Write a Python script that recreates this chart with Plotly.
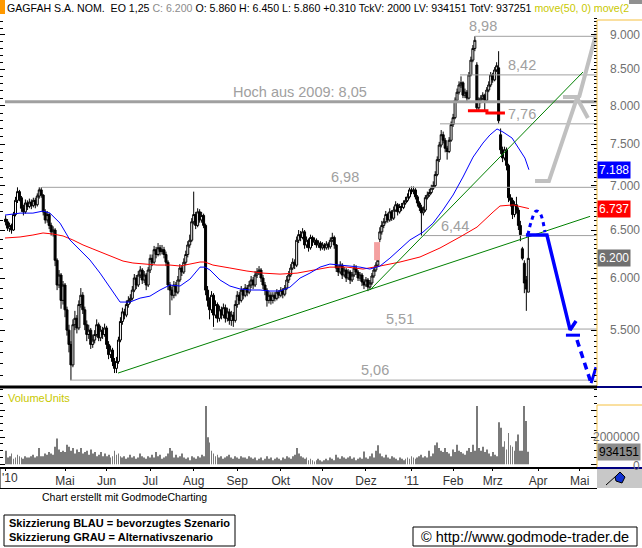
import numpy as np
import pandas as pd
import plotly.graph_objects as go

W, H = 642, 548
FONT = "Liberation Sans, Arial, sans-serif"

# ---------------- data ----------------
START = "2010-03-22"  # first trading day shown (position 0)

opens = [6.62, 6.59, 6.52, 6.55, 6.50, 6.67, 6.83, 6.93, 6.86, 6.74, 6.70, 6.80, 6.76, 6.81, 6.77, 6.83, 6.78, 6.88, 6.95,
         6.89, 6.70, 6.61, 6.67, 6.55, 6.48, 6.50, 6.18, 5.93, 6.03, 5.78,
         5.93, 5.69, 5.50, 5.37, 5.19, 5.55, 5.61, 5.52, 5.74, 5.83, 5.69, 5.55, 5.46, 5.50, 5.37, 5.41, 5.46, 5.55, 5.43, 5.50, 5.46, 5.52, 5.37, 5.28, 5.32, 5.22, 5.16, 5.22, 5.41,
         5.58, 5.67, 5.64, 5.74, 5.78, 5.80, 5.88, 6.00, 5.93, 6.03, 6.08, 5.98, 6.03, 5.93, 6.08, 6.20, 6.16, 6.29, 6.24, 6.31, 6.27, 6.29, 6.24, 6.16, 5.93, 5.88, 5.83, 5.93, 5.86, 5.98, 6.10, 6.06,
         6.16, 6.24, 6.34, 6.39, 6.59, 6.67, 6.55, 6.70, 6.61, 6.66, 6.55, 5.88, 5.78, 5.69, 5.83, 5.64,
         5.74, 5.61, 5.69, 5.64, 5.71, 5.61, 5.67, 5.59, 5.64, 5.59, 5.74, 5.83, 5.78, 5.88, 5.83, 5.90, 5.86, 5.93, 5.98, 5.93,
         6.03, 6.06, 6.08, 6.00, 5.93, 5.88, 5.78, 5.83, 5.78, 5.83, 5.80, 5.86, 5.83, 5.88, 5.84, 5.90, 5.98, 6.03, 6.10, 6.16, 6.13, 6.39,
         6.45, 6.42, 6.48, 6.34, 6.39, 6.31, 6.42, 6.37, 6.39, 6.34, 6.36, 6.31, 6.34, 6.31, 6.35, 6.32, 6.39, 6.42, 6.34, 6.10, 6.06, 6.13, 6.03, 6.08, 6.00, 6.06, 5.98, 6.03, 6.10, 6.06, 6.00, 6.03, 5.96, 5.93, 5.98, 5.91, 5.95, 6.02, 6.08, 6.13,
         6.40, 6.48, 6.55, 6.59, 6.67, 6.61, 6.70, 6.63, 6.72, 6.78, 6.70, 6.76, 6.75, 6.80, 6.83, 6.87, 6.95, 6.93, 6.95, 6.87, 6.80, 6.75, 6.69, 6.72, 6.86, 6.89, 6.92, 6.97, 7.00, 7.13, 7.31, 7.49, 7.62, 7.55, 7.45, 7.41, 7.55, 7.75, 7.84, 8.07, 8.18, 8.28, 8.31, 8.14, 8.18, 8.10, 8.42, 8.63, 8.80,
         8.56, 7.97, 8.07, 8.10, 8.14, 8.07, 8.21, 8.28, 8.42, 8.35, 8.49, 8.52, 7.62, 7.43, 7.33, 7.43, 7.24, 6.86, 6.83, 6.67, 6.78, 6.72, 6.55, 6.30, 6.15, 5.98, 5.86]

highs = [6.66, 6.62, 6.58, 6.57, 6.70, 6.87, 6.98, 6.95, 6.88, 6.78, 6.84, 6.83, 6.85, 6.84, 6.86, 6.86, 6.91, 6.98, 6.98,
         6.90, 6.73, 6.71, 6.69, 6.58, 6.54, 6.52, 6.20, 6.08, 6.05, 5.97,
         5.95, 5.72, 5.55, 5.40, 5.60, 5.68, 5.64, 5.78, 5.90, 5.86, 5.72, 5.59, 5.55, 5.52, 5.46, 5.50, 5.60, 5.57, 5.54, 5.53, 5.56, 5.54, 5.40, 5.36, 5.34, 5.25, 5.26, 5.44, 5.62,
         5.71, 5.70, 5.78, 5.82, 5.84, 5.92, 6.04, 6.03, 6.07, 6.12, 6.10, 6.07, 6.05, 6.11, 6.24, 6.24, 6.33, 6.32, 6.36, 6.34, 6.34, 6.32, 6.27, 6.18, 5.96, 5.91, 5.97, 5.96, 6.02, 6.14, 6.13, 6.20,
         6.28, 6.38, 6.45, 6.63, 6.93, 6.70, 6.74, 6.73, 6.70, 6.68, 6.57, 5.92, 5.81, 5.87, 5.85, 5.78,
         5.76, 5.73, 5.72, 5.75, 5.74, 5.71, 5.70, 5.68, 5.67, 5.78, 5.87, 5.86, 5.92, 5.90, 5.94, 5.93, 5.97, 6.02, 6.01, 6.07,
         6.10, 6.12, 6.10, 6.03, 5.96, 5.90, 5.87, 5.86, 5.86, 5.86, 5.89, 5.88, 5.91, 5.90, 5.93, 6.02, 6.07, 6.14, 6.20, 6.19, 6.43, 6.50,
         6.49, 6.52, 6.50, 6.43, 6.41, 6.45, 6.44, 6.42, 6.41, 6.39, 6.38, 6.37, 6.36, 6.38, 6.37, 6.42, 6.47, 6.44, 6.35, 6.13, 6.17, 6.15, 6.11, 6.10, 6.09, 6.08, 6.06, 6.14, 6.13, 6.08, 6.06, 6.05, 5.99, 6.01, 6.00, 5.98, 6.05, 6.11, 6.16, 6.20,
         6.53, 6.60, 6.63, 6.71, 6.69, 6.74, 6.72, 6.76, 6.82, 6.80, 6.79, 6.80, 6.83, 6.87, 6.91, 6.98, 6.99, 6.99, 6.97, 6.89, 6.82, 6.78, 6.76, 6.89, 6.93, 6.96, 7.01, 7.05, 7.17, 7.35, 7.53, 7.68, 7.66, 7.58, 7.48, 7.59, 7.79, 7.89, 8.11, 8.23, 8.33, 8.40, 8.33, 8.23, 8.21, 8.46, 8.68, 8.85, 8.98,
         8.60, 8.11, 8.14, 8.18, 8.16, 8.25, 8.33, 8.46, 8.45, 8.53, 8.60, 8.76, 7.70, 7.47, 7.47, 7.46, 7.26, 6.90, 6.86, 6.82, 6.87, 6.75, 6.60, 6.32, 6.18, 6.02, 6.45]

lows = [6.55, 6.49, 6.48, 6.46, 6.49, 6.65, 6.80, 6.82, 6.70, 6.66, 6.68, 6.72, 6.74, 6.73, 6.75, 6.74, 6.76, 6.85, 6.86,
        6.66, 6.57, 6.58, 6.51, 6.44, 6.43, 6.12, 5.88, 5.90, 5.70, 5.74,
        5.62, 5.45, 5.30, 5.06, 5.17, 5.50, 5.47, 5.50, 5.71, 5.65, 5.50, 5.40, 5.42, 5.33, 5.34, 5.38, 5.44, 5.40, 5.40, 5.42, 5.44, 5.33, 5.24, 5.25, 5.18, 5.12, 5.12, 5.20, 5.39,
        5.55, 5.60, 5.62, 5.71, 5.75, 5.78, 5.86, 5.89, 5.91, 6.00, 5.94, 5.95, 5.88, 5.91, 6.05, 6.12, 6.14, 6.20, 6.22, 6.23, 6.24, 6.20, 6.12, 5.88, 5.64, 5.78, 5.80, 5.82, 5.84, 5.96, 6.02, 6.04,
        6.13, 6.21, 6.31, 6.37, 6.56, 6.51, 6.53, 6.58, 6.58, 6.52, 5.83, 5.72, 5.60, 5.66, 5.53, 5.61,
        5.57, 5.58, 5.60, 5.61, 5.57, 5.58, 5.55, 5.54, 5.53, 5.57, 5.71, 5.74, 5.76, 5.79, 5.81, 5.82, 5.84, 5.90, 5.89, 5.91,
        6.00, 6.03, 5.96, 5.89, 5.83, 5.72, 5.75, 5.74, 5.75, 5.77, 5.78, 5.80, 5.81, 5.80, 5.82, 5.88, 5.95, 6.01, 6.08, 6.09, 6.11, 6.36,
        6.38, 6.40, 6.30, 6.31, 6.27, 6.29, 6.33, 6.34, 6.31, 6.31, 6.28, 6.29, 6.28, 6.29, 6.29, 6.30, 6.37, 6.30, 6.06, 6.02, 6.04, 5.99, 6.01, 5.96, 5.98, 5.94, 5.96, 6.01, 6.03, 5.97, 5.97, 5.92, 5.89, 5.91, 5.87, 5.89, 5.93, 6.00, 6.06, 6.11,
        6.37, 6.45, 6.52, 6.57, 6.58, 6.59, 6.60, 6.61, 6.70, 6.66, 6.68, 6.71, 6.73, 6.78, 6.81, 6.85, 6.90, 6.90, 6.84, 6.76, 6.71, 6.44, 6.66, 6.70, 6.84, 6.87, 6.90, 6.95, 6.98, 7.11, 7.28, 7.46, 7.51, 7.40, 7.31, 7.39, 7.53, 7.72, 7.82, 8.04, 8.15, 8.24, 8.10, 8.10, 8.05, 8.08, 8.40, 8.60, 8.76,
        7.92, 7.93, 8.03, 8.07, 7.94, 8.05, 8.18, 8.25, 8.31, 8.33, 8.46, 7.76, 7.38, 7.28, 7.30, 7.18, 6.81, 6.76, 6.62, 6.64, 6.68, 6.50, 6.38, 6.18, 5.85, 5.68, 5.86]

closes = [6.59, 6.52, 6.55, 6.50, 6.67, 6.83, 6.93, 6.86, 6.74, 6.70, 6.80, 6.76, 6.81, 6.77, 6.83, 6.78, 6.88, 6.95, 6.89,
          6.70, 6.61, 6.67, 6.55, 6.48, 6.50, 6.18, 5.93, 6.03, 5.78, 5.93,
          5.69, 5.50, 5.37, 5.19, 5.55, 5.61, 5.52, 5.74, 5.83, 5.69, 5.55, 5.46, 5.50, 5.37, 5.41, 5.46, 5.55, 5.43, 5.50, 5.46, 5.52, 5.37, 5.28, 5.32, 5.22, 5.16, 5.22, 5.41, 5.58,
          5.67, 5.64, 5.74, 5.78, 5.80, 5.88, 6.00, 5.93, 6.03, 6.08, 5.98, 6.03, 5.93, 6.08, 6.20, 6.16, 6.29, 6.24, 6.31, 6.27, 6.29, 6.24, 6.16, 5.93, 5.88, 5.83, 5.93, 5.86, 5.98, 6.10, 6.06, 6.16,
          6.24, 6.34, 6.39, 6.59, 6.67, 6.55, 6.70, 6.61, 6.66, 6.55, 5.88, 5.78, 5.69, 5.83, 5.64, 5.74,
          5.61, 5.69, 5.64, 5.71, 5.61, 5.67, 5.59, 5.64, 5.59, 5.74, 5.83, 5.78, 5.88, 5.83, 5.90, 5.86, 5.93, 5.98, 5.93, 6.03,
          6.06, 6.08, 6.00, 5.93, 5.88, 5.78, 5.83, 5.78, 5.83, 5.80, 5.86, 5.83, 5.88, 5.84, 5.90, 5.98, 6.03, 6.10, 6.16, 6.13, 6.39, 6.45,
          6.42, 6.48, 6.34, 6.39, 6.31, 6.42, 6.37, 6.39, 6.34, 6.36, 6.31, 6.34, 6.31, 6.35, 6.32, 6.39, 6.42, 6.34, 6.10, 6.06, 6.13, 6.03, 6.08, 6.00, 6.06, 5.98, 6.03, 6.10, 6.06, 6.00, 6.03, 5.96, 5.93, 5.98, 5.91, 5.95, 6.02, 6.08, 6.13, 6.18,
          6.48, 6.55, 6.59, 6.67, 6.61, 6.70, 6.63, 6.72, 6.78, 6.70, 6.76, 6.75, 6.80, 6.83, 6.87, 6.95, 6.93, 6.95, 6.87, 6.80, 6.75, 6.69, 6.72, 6.86, 6.89, 6.92, 6.97, 7.00, 7.13, 7.31, 7.49, 7.62, 7.55, 7.45, 7.41, 7.55, 7.75, 7.84, 8.07, 8.18, 8.28, 8.31, 8.14, 8.18, 8.10, 8.42, 8.63, 8.80, 8.92,
          7.97, 8.07, 8.10, 8.14, 8.07, 8.21, 8.28, 8.42, 8.35, 8.49, 8.55, 7.80, 7.43, 7.33, 7.43, 7.24, 6.86, 6.83, 6.67, 6.78, 6.72, 6.55, 6.45, 6.20, 5.95, 5.89, 6.20]

volume_mio = [1.0, 0.5, 0.6, 0.8, 0.4, 0.5, 0.7, 0.6, 0.5, 0.4, 0.6, 0.5, 0.5, 0.6, 0.7, 0.5, 0.6, 1.2, 0.6,
              0.6, 0.8, 0.7, 0.9, 0.8, 0.7, 1.3, 1.9, 1.1, 0.9, 1.0,
              0.9, 1.45, 1.3, 1.0, 1.2, 0.8, 1.1, 0.9, 1.2, 0.8, 0.9, 1.0, 0.7, 1.1, 0.8, 0.9, 0.6, 0.7, 0.9, 0.6, 0.8, 0.6, 0.7, 0.5, 0.6, 1.0, 0.7, 0.8, 0.6,
              0.5, 0.6, 0.4, 0.5, 0.7, 0.5, 0.6, 0.4, 0.5, 0.8, 0.6, 0.5, 0.4, 0.6, 0.5, 0.7, 0.5, 0.9, 0.6, 0.7, 0.4, 0.5, 0.6, 0.8, 1.2, 1.0, 0.5, 0.7, 0.5, 0.6, 0.8, 0.5,
              0.4, 0.5, 0.3, 0.6, 0.5, 0.4, 0.6, 0.5, 0.7, 0.6, 4.3, 2.0, 1.6, 1.0, 0.8, 0.6,
              0.7, 0.5, 0.6, 0.4, 0.5, 0.6, 0.7, 0.5, 0.4, 0.6, 0.5, 0.4, 0.6, 0.5, 0.5, 0.4, 0.6, 0.5, 0.4, 0.5,
              0.3, 0.4, 0.5, 0.3, 0.4, 0.6, 0.4, 0.5, 0.3, 0.4, 0.5, 0.4, 0.3, 0.5, 0.4, 0.6, 0.5, 0.4, 0.6, 0.7, 1.2, 0.8,
              0.6, 0.5, 0.4, 0.5, 0.3, 0.4, 0.3, 0.2, 0.3, 0.4, 0.3, 0.2, 0.3, 0.4, 0.3, 0.5, 0.4, 0.3, 0.7, 0.5, 0.4, 0.6, 0.5, 0.4, 0.5, 0.6, 0.4, 0.5, 0.3, 0.4, 0.5, 0.4, 0.95, 0.5, 0.4, 0.6, 0.8, 0.5, 1.0, 1.4,
              0.8, 0.6, 0.5, 0.7, 0.5, 0.4, 0.6, 0.5, 0.4, 0.3, 0.5, 0.4, 0.3, 0.4, 0.5, 0.4, 0.6, 0.5, 0.4, 0.5, 0.6, 0.7, 0.5, 0.6, 0.5, 1.0, 0.6, 0.8, 1.4, 1.6, 1.2, 1.0, 0.9, 1.2, 0.9, 0.8, 0.6, 1.1, 0.9, 1.45, 1.0, 0.9, 0.8, 0.7, 1.0, 1.2, 0.9, 1.45, 1.0,
              4.3, 1.2, 1.0, 1.3, 0.9, 1.1, 0.8, 0.6, 0.9, 0.7, 0.6, 3.1, 2.7, 1.3, 1.7, 1.1, 2.3, 1.4, 1.3, 1.0, 1.7, 2.2, 1.0, 1.0, 4.3, 3.2, 0.934151]

# moving averages (trading-day position, value)
ma50_pos = [-0.3, 7.3, 13.8, 18.9, 22.4, 27.5, 32.5, 37.6, 42.6, 47.7, 52.7, 57.8, 62.8, 67.9, 72.9, 78.0, 83.0, 88.1, 93.1, 98.2,
            100.7, 103.2, 108.3, 113.3, 118.4, 123.4, 128.5, 133.5, 138.6, 143.6, 148.7, 153.7, 158.8, 163.8, 168.9, 173.9, 179.0, 184.0, 189.1, 194.1,
            199.2, 204.2, 210.8, 215.9, 220.9, 226.0, 231.0, 236.1, 241.1, 244.6, 248.2, 251.2, 255.8, 258.8, 262.3, 264.3]
ma50 = [6.664, 6.686, 6.686, 6.709, 6.686, 6.575, 6.393, 6.287, 6.183, 6.049, 5.909, 5.764, 5.764, 5.802, 5.821, 5.881, 5.930, 5.920, 5.989, 6.110,
        6.110, 6.081, 5.980, 5.920, 5.891, 5.881, 5.881, 5.871, 5.871, 5.909, 5.999, 6.049, 6.110, 6.141, 6.131, 6.121, 6.110, 6.090, 6.121, 6.202,
        6.297, 6.393, 6.477, 6.575, 6.721, 6.891, 7.101, 7.341, 7.515, 7.617, 7.694, 7.655, 7.578, 7.466, 7.329, 7.188]
ma200_pos = [-0.3, 7.3, 13.8, 18.9, 23.9, 29.0, 34.0, 39.1, 44.1, 49.2, 54.2, 59.3, 64.3, 69.4, 76.5, 83.0, 88.1, 93.1, 98.2, 100.7,
             104.7, 113.3, 121.9, 130.0, 138.6, 147.2, 155.3, 163.8, 172.4, 180.5, 189.1, 199.2, 209.3, 219.4, 229.5, 238.1, 246.2, 249.7, 256.3, 261.3, 264.3]
ma200 = [6.414, 6.425, 6.446, 6.468, 6.457, 6.436, 6.393, 6.340, 6.298, 6.255, 6.214, 6.172, 6.152, 6.141, 6.131, 6.131, 6.121, 6.141, 6.162, 6.162,
         6.131, 6.101, 6.070, 6.049, 6.039, 6.049, 6.081, 6.110, 6.110, 6.090, 6.121, 6.162, 6.214, 6.308, 6.425, 6.532, 6.698, 6.766, 6.778, 6.755, 6.737]

# horizontal marks
levels = [8.98, 8.42, 8.05, 7.76, 6.98, 6.44, 5.51, 5.06]
level_from = [237.0, 229.5, -0.3, 219.4, 18.4, 210.8, 104.7, 32.5]
level_text = ["8,98", "8,42", "Hoch aus 2009: 8,05", "7,76", "6,98", "6,44", "5,51", "5,06"]
level_text_pos = [241.0, 261.0, 148.7, 261.0, 171.4, 227.0, 199.2, 186.6]

# trend lines
trend_long_x, trend_long_y = [56.8, 295.2], [5.12, 6.65]
trend_steep_x, trend_steep_y = [184.0, 291.6], [5.88, 8.46]
redline_x, redline_y = [233.5, 243.1, 243.1, 252.2], [7.93, 7.93, 7.90, 7.90]
gap_x, gap_y = [186.1, 189.1, 189.1, 186.1, 186.1], [6.18, 6.18, 6.37, 6.37, 6.18]

# scenario sketches
blue_arc_x, blue_arc_y = [263.8, 265.4, 267.9, 269.9, 272.4], [6.446, 6.586, 6.709, 6.686, 6.477]
blue_main_x, blue_main_y = [262.8, 273.4, 285.1, 288.1], [6.446, 6.446, 5.502, 5.584]
blue_bar_x, blue_bar_y = [283.0, 290.1], [5.454, 5.454]
blue_dash_x, blue_dash_y = [288.6, 295.7], [5.411, 5.035]
blue_hook_x, blue_hook_y = [295.7, 298.2], [5.035, 5.170]
gray_a_x, gray_a_y = [267.4, 274.4, 288.6], [7.053, 7.053, 8.102]
gray_b_x, gray_b_y = [281.5, 290.1], [8.115, 8.115]
gray_c_x, gray_c_y = [288.6, 294.1], [8.102, 7.835]
gray_d_x, gray_d_y = [289.6, 298.2, 300.2], [8.11, 9.015, 8.807]

last_ma50, last_ma200, last_close, last_vol = 7.188, 6.737, 6.200, 934151
price_ticks = [5.5, 6.0, 6.5, 7.0, 7.5, 8.0, 8.5, 9.0]

# ---------------- helpers ----------------
n = len(closes)
assert all(len(a) == n for a in (opens, highs, lows, volume_mio)), [len(a) for a in (opens, highs, lows, closes, volume_mio)]
pos = np.arange(n)
volume = [v * 1e6 for v in volume_mio]

def PX(x):
    return x / W

def PY(y):
    return 1 - y / H

X_RANGE = [-2.83, 298.69]
Y_RANGE = [np.log10(5.019), np.log10(9.274)]
V_RANGE = [-0.2e6, 5.63e6]

cal = pd.bdate_range(START, "2011-05-31")
mon = {1: "'11", 2: "Feb", 3: "Mrz", 4: "Apr", 5: "Mai", 6: "Jun", 7: "Jul", 8: "Aug",
       9: "Sep", 10: "Okt", 11: "Nov", 12: "Dez"}
xt_vals, xt_text = [0], [""]
for k in range(1, len(cal)):
    d = cal[k]
    if d.month != cal[k - 1].month and not (d.year == 2010 and d.month == 4):
        xt_vals.append(k)
        xt_text.append(mon[d.month])

fig = go.Figure()

def line(x, y, color, width, dash="solid", shape="linear", ax="y"):
    fig.add_trace(go.Scatter(x=x, y=y, mode="lines", yaxis=ax, xaxis="x",
                             line=dict(color=color, width=width, dash=dash, shape=shape),
                             hoverinfo="skip", showlegend=False))

# gap box
fig.add_trace(go.Scatter(x=gap_x, y=gap_y, fill="toself", mode="lines", line=dict(width=0),
                         fillcolor="#f4a0a0", hoverinfo="skip", showlegend=False))
# level lines
for lv, x0 in zip(levels, level_from):
    line([x0, X_RANGE[1]], [lv, lv], "#a0a0a0", 3 if lv == 8.05 else 1)
# moving averages
line(ma200_pos, ma200, "#ff0000", 1)
line(ma50_pos, ma50, "#0000ff", 1)
# trend lines
line(trend_long_x, trend_long_y, "#008000", 1)
line(trend_steep_x, trend_steep_y, "#008000", 1)
line(redline_x, redline_y, "#ff0000", 3)

fig.add_trace(go.Candlestick(
    x=pos, open=opens, high=highs, low=lows, close=closes,
    increasing=dict(line=dict(color="black", width=1), fillcolor="white"),
    decreasing=dict(line=dict(color="black", width=1), fillcolor="black"),
    whiskerwidth=0, showlegend=False, hoverinfo="skip"))

# scenarios
line(gray_a_x, gray_a_y, "#c0c0c0", 4)
line(gray_b_x, gray_b_y, "#c0c0c0", 4)
line(gray_c_x, gray_c_y, "#c0c0c0", 4)
line(gray_d_x, gray_d_y, "#c0c0c0", 4)
line(blue_arc_x, blue_arc_y, "#0000ff", 3, dash="4px,4px", shape="spline")
line(blue_main_x, blue_main_y, "#0000ff", 3.5)
line(blue_bar_x, blue_bar_y, "#0000ff", 3)
line(blue_dash_x, blue_dash_y, "#0000ff", 3.5, dash="7px,5px")
line(blue_hook_x, blue_hook_y, "#0000ff", 3)

# helper traces so the left tick axes render
fig.add_trace(go.Scatter(x=[0], y=[6.5], yaxis="y3", mode="markers", marker=dict(opacity=0),
                         hoverinfo="skip", showlegend=False))
fig.add_trace(go.Scatter(x=[0], y=[0], xaxis="x2", yaxis="y4", mode="markers", marker=dict(opacity=0),
                         hoverinfo="skip", showlegend=False))

# volume
fig.add_trace(go.Bar(x=pos, y=volume, xaxis="x2", yaxis="y2", width=0.45,
                     marker=dict(color="#7a7a7a", line=dict(width=0)), hoverinfo="skip", showlegend=False))

minor_price = [round(5.0 + 0.05 * i, 2) for i in range(0, 90)]
minor_vol = [0.5e6 * i for i in range(0, 12)]

XDOM = [0, PX(597)]
fig.update_layout(
    width=W, height=H, margin=dict(l=0, r=0, t=0, b=0),
    paper_bgcolor="white", plot_bgcolor="white", showlegend=False, boxgap=0, boxgroupgap=0,
    font=dict(family=FONT, size=12, color="#000"),
    xaxis=dict(domain=XDOM, range=X_RANGE, anchor="y", showticklabels=False, showgrid=False,
               zeroline=False, showline=False, ticks="", rangeslider=dict(visible=False)),
    xaxis2=dict(domain=XDOM, range=X_RANGE, anchor="y2", matches="x", showgrid=False, zeroline=False,
                tickmode="array", tickvals=xt_vals, ticktext=xt_text, ticks="outside", ticklen=3,
                tickcolor="#000", tickfont=dict(size=12, color="#333", family=FONT), showline=False),
    yaxis=dict(domain=[PY(385), PY(17)], type="log", range=Y_RANGE, anchor="x", side="right",
               showgrid=False, zeroline=False, showline=False,
               tickmode="array", tickvals=price_ticks, ticktext=[f"{v:.3f}" for v in price_ticks],
               ticks="inside", ticklen=6, tickcolor="#000", ticklabelstandoff=12,
               tickfont=dict(size=12, color="#707070", family=FONT),
               minor=dict(tickmode="array", tickvals=minor_price, ticks="inside", ticklen=3, tickcolor="#000")),
    yaxis3=dict(type="log", range=Y_RANGE, overlaying="y", anchor="x", side="left",
                showgrid=False, zeroline=False, showline=False, showticklabels=False,
                tickmode="array", tickvals=price_ticks, ticks="inside", ticklen=5, tickcolor="#000",
                minor=dict(tickmode="array", tickvals=[round(5.0 + 0.1 * i, 1) for i in range(45)],
                           ticks="inside", ticklen=3, tickcolor="#000")),
    yaxis2=dict(domain=[PY(467), PY(388)], range=V_RANGE, anchor="x2", side="right", showgrid=False,
                zeroline=False, showline=False, showticklabels=False,
                tickmode="array", tickvals=[0, 2e6, 4e6], ticks="inside", ticklen=6, tickcolor="#000",
                minor=dict(tickmode="array", tickvals=minor_vol, ticks="inside", ticklen=3, tickcolor="#000")),
    yaxis4=dict(range=V_RANGE, overlaying="y2", anchor="x2", side="left", showgrid=False, zeroline=False,
                showline=False, showticklabels=False,
                tickmode="array", tickvals=[0, 2e6, 4e6], ticks="inside", ticklen=5, tickcolor="#000",
                minor=dict(tickmode="array", tickvals=minor_vol, ticks="inside", ticklen=3, tickcolor="#000")),
)

shapes = []
def pline(x0, y0, x1, y1, color, width):
    shapes.append(dict(type="line", xref="paper", yref="paper", x0=PX(x0), y0=PY(y0), x1=PX(x1), y1=PY(y1),
                       line=dict(color=color, width=width), layer="above"))
def prect(x0, y0, x1, y1, fill, lc=None, lw=0):
    shapes.append(dict(type="rect", xref="paper", yref="paper", x0=PX(x0), y0=PY(y0), x1=PX(x1), y1=PY(y1),
                       fillcolor=fill, line=dict(color=lc or fill, width=lw), layer="above"))

ORANGE = "#f5c040"
prect(0, 0, 5, 14, "#ff9900")
prect(629, 0, 642, 4, "#909090")
pline(597, 20, 597, 386, ORANGE, 1)
pline(597, 20, 642, 20, ORANGE, 1)
pline(0, 387, 597, 387, "#000", 3)
pline(597, 387, 642, 387, "#000080", 2)
pline(597, 405, 597, 467, ORANGE, 1)
pline(597, 405, 642, 405, ORANGE, 1)
pline(0, 468, 597, 468, "#000", 2)
pline(597, 468, 642, 468, "#000080", 2)
prect(597, 469, 642, 488, "#c8c8c8")
pline(0, 488.5, 597, 488.5, "#000", 1)
pline(0, 468, 0, 488, "#000", 1)
# small pen icon
pline(606, 485, 616, 476, "#000", 1)
shapes.append(dict(type="path", xref="paper", yref="paper", layer="above",
                   path=f"M {PX(615)} {PY(477)} L {PX(620)} {PY(472)} L {PX(625)} {PY(477)} L {PX(622)} {PY(483)} L {PX(616)} {PY(481)} Z",
                   fillcolor="#1030d0", line=dict(color="#000", width=1)))
prect(4, 515, 235, 546, "rgba(0,0,0,0)", "#000", 1)
prect(413, 527, 637, 546, "rgba(0,0,0,0)", "#000", 1)
fig.update_layout(shapes=shapes)

ann = []
hdr = ("GAGFAH S.A. NOM.  EO 1,25 <span style='color:#8c8c8c'>C: 6.200</span> O: 5.860 H: 6.450 L: 5.860 "
       "+0.310 TckV: 2000 LV: 934151 TotV: 937251 <span style='color:#c8c800'>move(50, 0) move(2</span>")
ann.append(dict(xref="paper", yref="paper", x=PX(5), y=PY(8), xanchor="left", yanchor="middle",
                text=hdr, showarrow=False, font=dict(size=10.6, color="#000", family=FONT)))
for t, xp, lv in zip(level_text, level_text_pos, levels):
    ann.append(dict(xref="x", yref="y", x=xp, y=np.log10(lv), xanchor="center", yanchor="bottom", yshift=0,
                    text=t, showarrow=False, font=dict(size=14.5, color="#a0a0a0", family=FONT)))
for v, bg in ((last_ma50, "#0000ff"), (last_ma200, "#ff0000"), (last_close, "#707070")):
    ann.append(dict(xref="paper", yref="y", x=PX(597), y=np.log10(v), xanchor="left", yanchor="middle",
                    text=f"{v:.3f}", showarrow=False, bgcolor=bg, borderpad=1,
                    font=dict(size=12, color="white", family=FONT)))
ann.append(dict(xref="paper", yref="y2", x=1, y=2e6, xanchor="right", yanchor="middle", text="2000000",
                showarrow=False, font=dict(size=12, color="#707070", family=FONT)))
ann.append(dict(xref="paper", yref="y2", x=1, y=0, xanchor="right", yanchor="middle", yshift=-2, text="0",
                showarrow=False, font=dict(size=12, color="#707070", family=FONT)))
ann.append(dict(xref="paper", yref="y2", x=PX(597), y=last_vol, xanchor="left", yanchor="middle",
                text=f"{last_vol}", showarrow=False, bgcolor="#8c8c8c", borderpad=1,
                font=dict(size=12, color="#000", family=FONT)))
ann.append(dict(xref="paper", yref="paper", x=PX(0), y=PY(478), xanchor="left", yanchor="middle",
                text="'10", showarrow=False, font=dict(size=12, color="#333", family=FONT)))
ann.append(dict(xref="paper", yref="paper", x=PX(6), y=PY(398), xanchor="left", yanchor="middle",
                text="VolumeUnits", showarrow=False, font=dict(size=11, color="#c8c800", family=FONT)))
ann.append(dict(xref="paper", yref="paper", x=PX(40), y=PY(497), xanchor="left", yanchor="middle",
                text="Chart erstellt mit GodmodeCharting", showarrow=False, font=dict(size=10.5, color="#000", family=FONT)))
ann.append(dict(xref="paper", yref="paper", x=PX(7), y=PY(530), xanchor="left", yanchor="middle",
                text="<b>Skizzierung BLAU = bevorzugtes Szenario</b><br><b>Skizzierung GRAU = Alternativszenario</b>",
                align="left", showarrow=False, font=dict(size=11, color="#000", family=FONT)))
ann.append(dict(xref="paper", yref="paper", x=PX(525), y=PY(537), xanchor="center", yanchor="middle",
                text="© http://www.godmode-trader.de", showarrow=False, font=dict(size=14.5, color="#000", family=FONT)))
fig.update_layout(annotations=ann)

fig.write_html("out.html")
